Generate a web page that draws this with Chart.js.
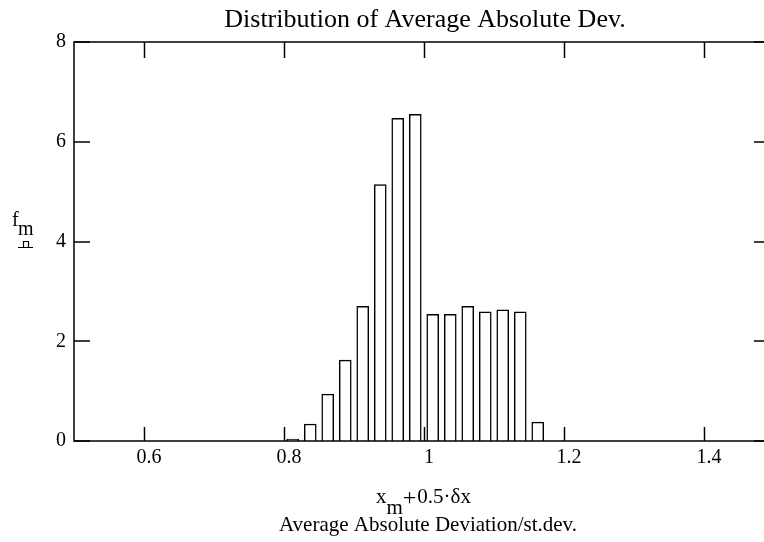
<!DOCTYPE html>
<html>
<head>
<meta charset="utf-8">
<script src="https://cdn.jsdelivr.net/npm/chart.js@4"></script>
<style>
  html, body { margin:0; padding:0; background:#fff; overflow:hidden; }
  #wrap { width:782px; height:542px; }
</style>
</head>
<body>
<div id="wrap"><canvas id="histChart" width="782" height="542"></canvas></div>
<script>
// bin midpoints (x_m + 0.5*dx) and relative frequencies
const binMids = [0.8125, 0.8375, 0.8625, 0.8875, 0.9125, 0.9375, 0.9625, 0.9875,
                 1.0125, 1.0375, 1.0625, 1.0875, 1.1125, 1.1375, 1.1625];
const freqs   = [0.04, 0.34, 0.94, 1.62, 2.70, 5.14, 6.47, 6.55,
                 2.54, 2.54, 2.70, 2.59, 2.63, 2.59, 0.38];
const xTicks = [0.6, 0.8, 1, 1.2, 1.4];
const yTicks = [0, 2, 4, 6, 8];

const serif = "'Liberation Serif', 'DejaVu Serif', serif";

// frame, inward ticks, title and axis labels
const framePlugin = {
  id: 'frame',
  afterDraw(chart) {
    const c = chart.ctx, a = chart.chartArea;
    const xs = chart.scales.x, ys = chart.scales.y;
    c.save();
    c.strokeStyle = '#000';
    c.lineWidth = 1.5;
    c.strokeRect(a.left, a.top, a.right - a.left, a.bottom - a.top);
    c.beginPath();
    xTicks.forEach(v => {
      const px = Math.round(xs.getPixelForValue(v)) + 0.5;
      c.moveTo(px, a.bottom); c.lineTo(px, a.bottom - 14);
      c.moveTo(px, a.top); c.lineTo(px, a.top + 16);
    });
    yTicks.forEach(v => {
      const py = Math.round(ys.getPixelForValue(v));
      c.moveTo(a.left, py); c.lineTo(a.left + 16, py);
      c.moveTo(a.right, py); c.lineTo(a.right - 20, py);
    });
    c.stroke();

    c.fillStyle = '#000';
    c.textBaseline = 'alphabetic';
    // title
    c.font = '26px ' + serif;
    c.textAlign = 'center';
    c.fillText('Distribution of Average Absolute Dev.', 425, 27);

    // x axis label, line 1: x_m + 0.5·δx
    c.textAlign = 'left';
    c.font = '21px ' + serif;
    let x = 376;
    c.fillText('x', x, 503); x += c.measureText('x').width;
    c.fillText('m', x, 514); x += c.measureText('m').width;
    c.font = '24px ' + serif;
    c.fillText('+', x, 505); x += c.measureText('+').width + 1;
    c.font = '21px ' + serif;
    c.fillText('0.5·δx', x, 503);
    // line 2
    c.textAlign = 'center';
    c.fillText('Average Absolute Deviation/st.dev.', 428, 531);

    // y axis label f_m with bar glyph
    c.textAlign = 'left';
    c.font = '20px ' + serif;
    c.fillText('f', 12, 226);
    c.fillText('m', 18, 235);
    c.lineWidth = 1.2;
    c.beginPath();
    c.moveTo(18, 247.5); c.lineTo(33, 247.5);
    c.moveTo(23.5, 247.5); c.lineTo(23.5, 241.5); c.lineTo(28.5, 241.5); c.lineTo(28.5, 247.5);
    c.stroke();
    c.restore();
  }
};

const ctx = document.getElementById('histChart').getContext('2d');
const chart = new Chart(ctx, {
  type: 'bar',
  data: {
    datasets: [{
      data: binMids.map((m, i) => ({x: m, y: freqs[i]})),
      backgroundColor: '#fff',
      borderColor: '#000',
      borderWidth: 1.5,
      borderSkipped: 'start',
      barThickness: 12
    }]
  },
  plugins: [framePlugin],
  options: {
    responsive: false,
    animation: false,
    layout: { padding: { left: 0, top: 42, right: 8, bottom: 0 } },
    plugins: { legend: { display: false }, tooltip: { enabled: false } },
    scales: {
      x: {
        type: 'linear',
        min: 0.5, max: 1.5,
        offset: false,
        grid: { display: false, offset: false, drawTicks: false },
        border: { display: false },
        afterBuildTicks: s => { s.ticks = xTicks.map(v => ({value: v})); },
        afterFit: s => { s.height = 101; },
        ticks: {
          color: '#000',
          padding: 5,
          labelOffset: 5,
          maxRotation: 0,
          font: { family: serif, size: 20 },
          callback: v => String(v)
        }
      },
      y: {
        min: 0, max: 8,
        grid: { display: false, drawTicks: false },
        border: { display: false },
        afterBuildTicks: s => { s.ticks = yTicks.map(v => ({value: v})); },
        afterFit: s => { s.width = 74; },
        ticks: {
          color: '#000',
          padding: 8,
          font: { family: serif, size: 20 }
        }
      }
    }
  }
});
</script>
</body>
</html>
